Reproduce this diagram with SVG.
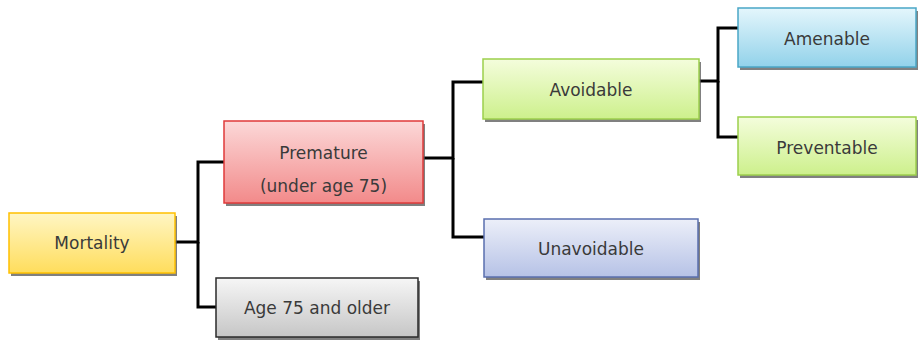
<svg xmlns="http://www.w3.org/2000/svg" width="918" height="341" viewBox="0 0 918 341">
<defs>
<linearGradient id="gY" x1="0" y1="0" x2="0" y2="1"><stop offset="0" stop-color="#fff6c4"/><stop offset="1" stop-color="#ffdd5c"/></linearGradient>
<linearGradient id="gR" x1="0" y1="0" x2="0" y2="1"><stop offset="0" stop-color="#fcd8d8"/><stop offset="1" stop-color="#f28a8a"/></linearGradient>
<linearGradient id="gG" x1="0" y1="0" x2="0" y2="1"><stop offset="0" stop-color="#f4fddc"/><stop offset="1" stop-color="#cdf08c"/></linearGradient>
<linearGradient id="gB" x1="0" y1="0" x2="0" y2="1"><stop offset="0" stop-color="#e4f6fc"/><stop offset="1" stop-color="#92d2ea"/></linearGradient>
<linearGradient id="gU" x1="0" y1="0" x2="0" y2="1"><stop offset="0" stop-color="#eceff9"/><stop offset="1" stop-color="#b6c2e6"/></linearGradient>
<linearGradient id="gA" x1="0" y1="0" x2="0" y2="1"><stop offset="0" stop-color="#f6f6f6"/><stop offset="1" stop-color="#c6c6c6"/></linearGradient>
</defs>
<style>
.sh{fill:#555;opacity:0.75}
.box{stroke-width:1.5}
.t{font-family:"DejaVu Sans",Verdana,sans-serif;font-size:17px;fill:#3a3a3a;text-anchor:middle}
.c{fill:none;stroke:#000;stroke-width:3}
</style>
<g id="connectors">
<path class="c" d="M175 242 H198 V162 H224"/>
<path class="c" d="M198 242 V307 H216"/>
<path class="c" d="M423 158 H453 V82 H483"/>
<path class="c" d="M453 158 V237 H484"/>
<path class="c" d="M699 81 H718 V28 H738"/>
<path class="c" d="M718 81 V137 H738"/>
</g>
<g id="mortality">
<rect class="sh" x="11" y="216" width="166" height="60"/>
<rect class="box" x="9" y="213" width="166" height="60" fill="url(#gY)" stroke="#ffc000"/>
<text class="t" x="92" y="249">Mortality</text>
</g>
<g id="premature">
<rect class="sh" x="226" y="124" width="199" height="82"/>
<rect class="box" x="224" y="121" width="199" height="82" fill="url(#gR)" stroke="#e03a3a"/>
<text class="t" x="323.5" y="159">Premature</text>
<text class="t" x="323.5" y="192">(under age 75)</text>
</g>
<g id="age75">
<rect class="sh" x="218" y="281" width="202" height="59"/>
<rect class="box" x="216" y="278" width="202" height="59" fill="url(#gA)" stroke="#2a2a2a"/>
<text class="t" x="317" y="314">Age 75 and older</text>
</g>
<g id="avoidable">
<rect class="sh" x="485" y="62" width="216" height="60"/>
<rect class="box" x="483" y="59" width="216" height="60" fill="url(#gG)" stroke="#9ccf4c"/>
<text class="t" x="591" y="96">Avoidable</text>
</g>
<g id="unavoidable">
<rect class="sh" x="486" y="222" width="214" height="58"/>
<rect class="box" x="484" y="219" width="214" height="58" fill="url(#gU)" stroke="#5a6fae"/>
<text class="t" x="591" y="255">Unavoidable</text>
</g>
<g id="amenable">
<rect class="sh" x="740" y="11" width="178" height="59"/>
<rect class="box" x="738" y="8" width="178" height="59" fill="url(#gB)" stroke="#4aa6c6"/>
<text class="t" x="827" y="45">Amenable</text>
</g>
<g id="preventable">
<rect class="sh" x="740" y="120" width="178" height="58"/>
<rect class="box" x="738" y="117" width="178" height="58" fill="url(#gG)" stroke="#9ccf4c"/>
<text class="t" x="827" y="154">Preventable</text>
</g>
</svg>
